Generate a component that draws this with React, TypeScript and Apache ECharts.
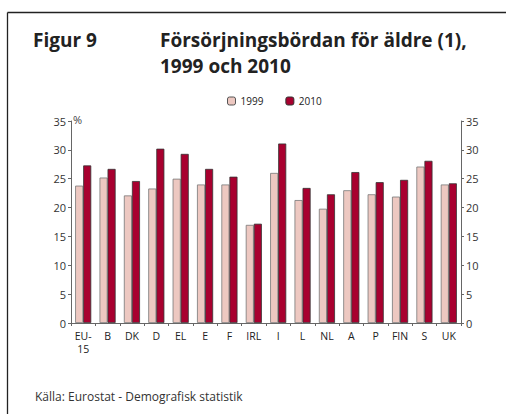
import React, { useEffect, useRef } from "react";
import * as echarts from "echarts";

const categories = ["EU-\n15", "B", "DK", "D", "EL", "E", "F", "IRL", "I", "L", "NL", "A", "P", "FIN", "S", "UK"];
const values1999 = [23.8, 25.2, 22.1, 23.3, 25.0, 24.0, 24.0, 17.0, 26.0, 21.3, 19.8, 23.0, 22.3, 21.9, 27.1, 24.0];
const values2010 = [27.3, 26.7, 24.6, 30.2, 29.3, 26.7, 25.35, 17.2, 31.1, 23.4, 22.3, 26.15, 24.4, 24.8, 28.1, 24.2];
const yTicks = [0, 5, 10, 15, 20, 25, 30, 35];

const FONT = "'Open Sans', 'Noto Sans', sans-serif";

export default function App() {
  const ref = useRef<HTMLDivElement>(null);
  useEffect(() => {
    if (!ref.current) return;
    const chart = echarts.init(ref.current, null, { renderer: "svg" });
    const axisCommon = {
      type: "value" as const,
      min: yTicks[0],
      max: yTicks[yTicks.length - 1],
      interval: 5,
      axisLine: { show: true, lineStyle: { color: "#666", width: 1 } },
      axisTick: { show: true, length: 3, lineStyle: { color: "#666" } },
      splitLine: { show: false },
      axisLabel: { color: "#333", fontSize: 11, fontFamily: FONT, margin: 5 },
    };
    chart.setOption({
      animation: false,
      textStyle: { fontFamily: FONT },
      graphic: [
        {
          type: "line",
          shape: { x1: 7.5, y1: 12.5, x2: 506, y2: 12.5 },
          style: { stroke: "#222", lineWidth: 1.3 },
        },
        {
          type: "line",
          shape: { x1: 7.5, y1: 12.5, x2: 7.5, y2: 414 },
          style: { stroke: "#222", lineWidth: 1.3 },
        },
        {
          type: "text",
          x: 33,
          y: 27,
          style: { text: "Figur 9", font: `bold 19px ${FONT}`, lineHeight: 26, fill: "#222" },
        },
        {
          type: "text",
          x: 160,
          y: 27,
          style: {
            text: "Försörjningsbördan för äldre (1),\n1999 och 2010",
            font: `bold 19px ${FONT}`,
            lineHeight: 26,
            fill: "#222",
          },
        },
        {
          type: "text",
          x: 73,
          y: 114,
          style: { text: "%", font: `11px ${FONT}`, fill: "#444" },
        },
        {
          type: "text",
          x: 35,
          y: 390,
          style: { text: "Källa: Eurostat - Demografisk statistik", font: `12px ${FONT}`, fill: "#333" },
        },
      ],
      legend: {
        top: 91,
        left: 222,
        itemWidth: 8,
        itemHeight: 8,
        itemGap: 22,
        textStyle: { fontSize: 10, color: "#222", fontFamily: FONT },
        data: [
          { name: "1999", itemStyle: { borderColor: "#555", borderWidth: 1 } },
          { name: "2010", itemStyle: { borderColor: "#333", borderWidth: 1 } },
        ],
      },
      grid: { left: 71, right: 45, top: 121, bottom: 91 },
      xAxis: {
        type: "category",
        data: categories,
        axisLine: { lineStyle: { color: "#666" } },
        axisTick: { show: true, alignWithLabel: false, length: 3, lineStyle: { color: "#666" } },
        axisLabel: { color: "#222", fontSize: 10.5, fontFamily: FONT, margin: 6, interval: 0, lineHeight: 13 },
      },
      yAxis: [
        { ...axisCommon, position: "left" },
        { ...axisCommon, position: "right" },
      ],
      series: [
        {
          name: "1999",
          type: "bar",
          data: values1999,
          barGap: "0%",
          barCategoryGap: "34%",
          itemStyle: { color: "#EDC8C1", borderColor: "#777", borderWidth: 0.8 },
        },
        {
          name: "2010",
          type: "bar",
          data: values2010,
          itemStyle: { color: "#A8002F", borderColor: "#333", borderWidth: 0.8 },
        },
      ],
    });
    return () => chart.dispose();
  }, []);
  return <div ref={ref} style={{ position: "fixed", left: 0, top: 0, width: 506, height: 414, background: "#fff" }} />;
}
